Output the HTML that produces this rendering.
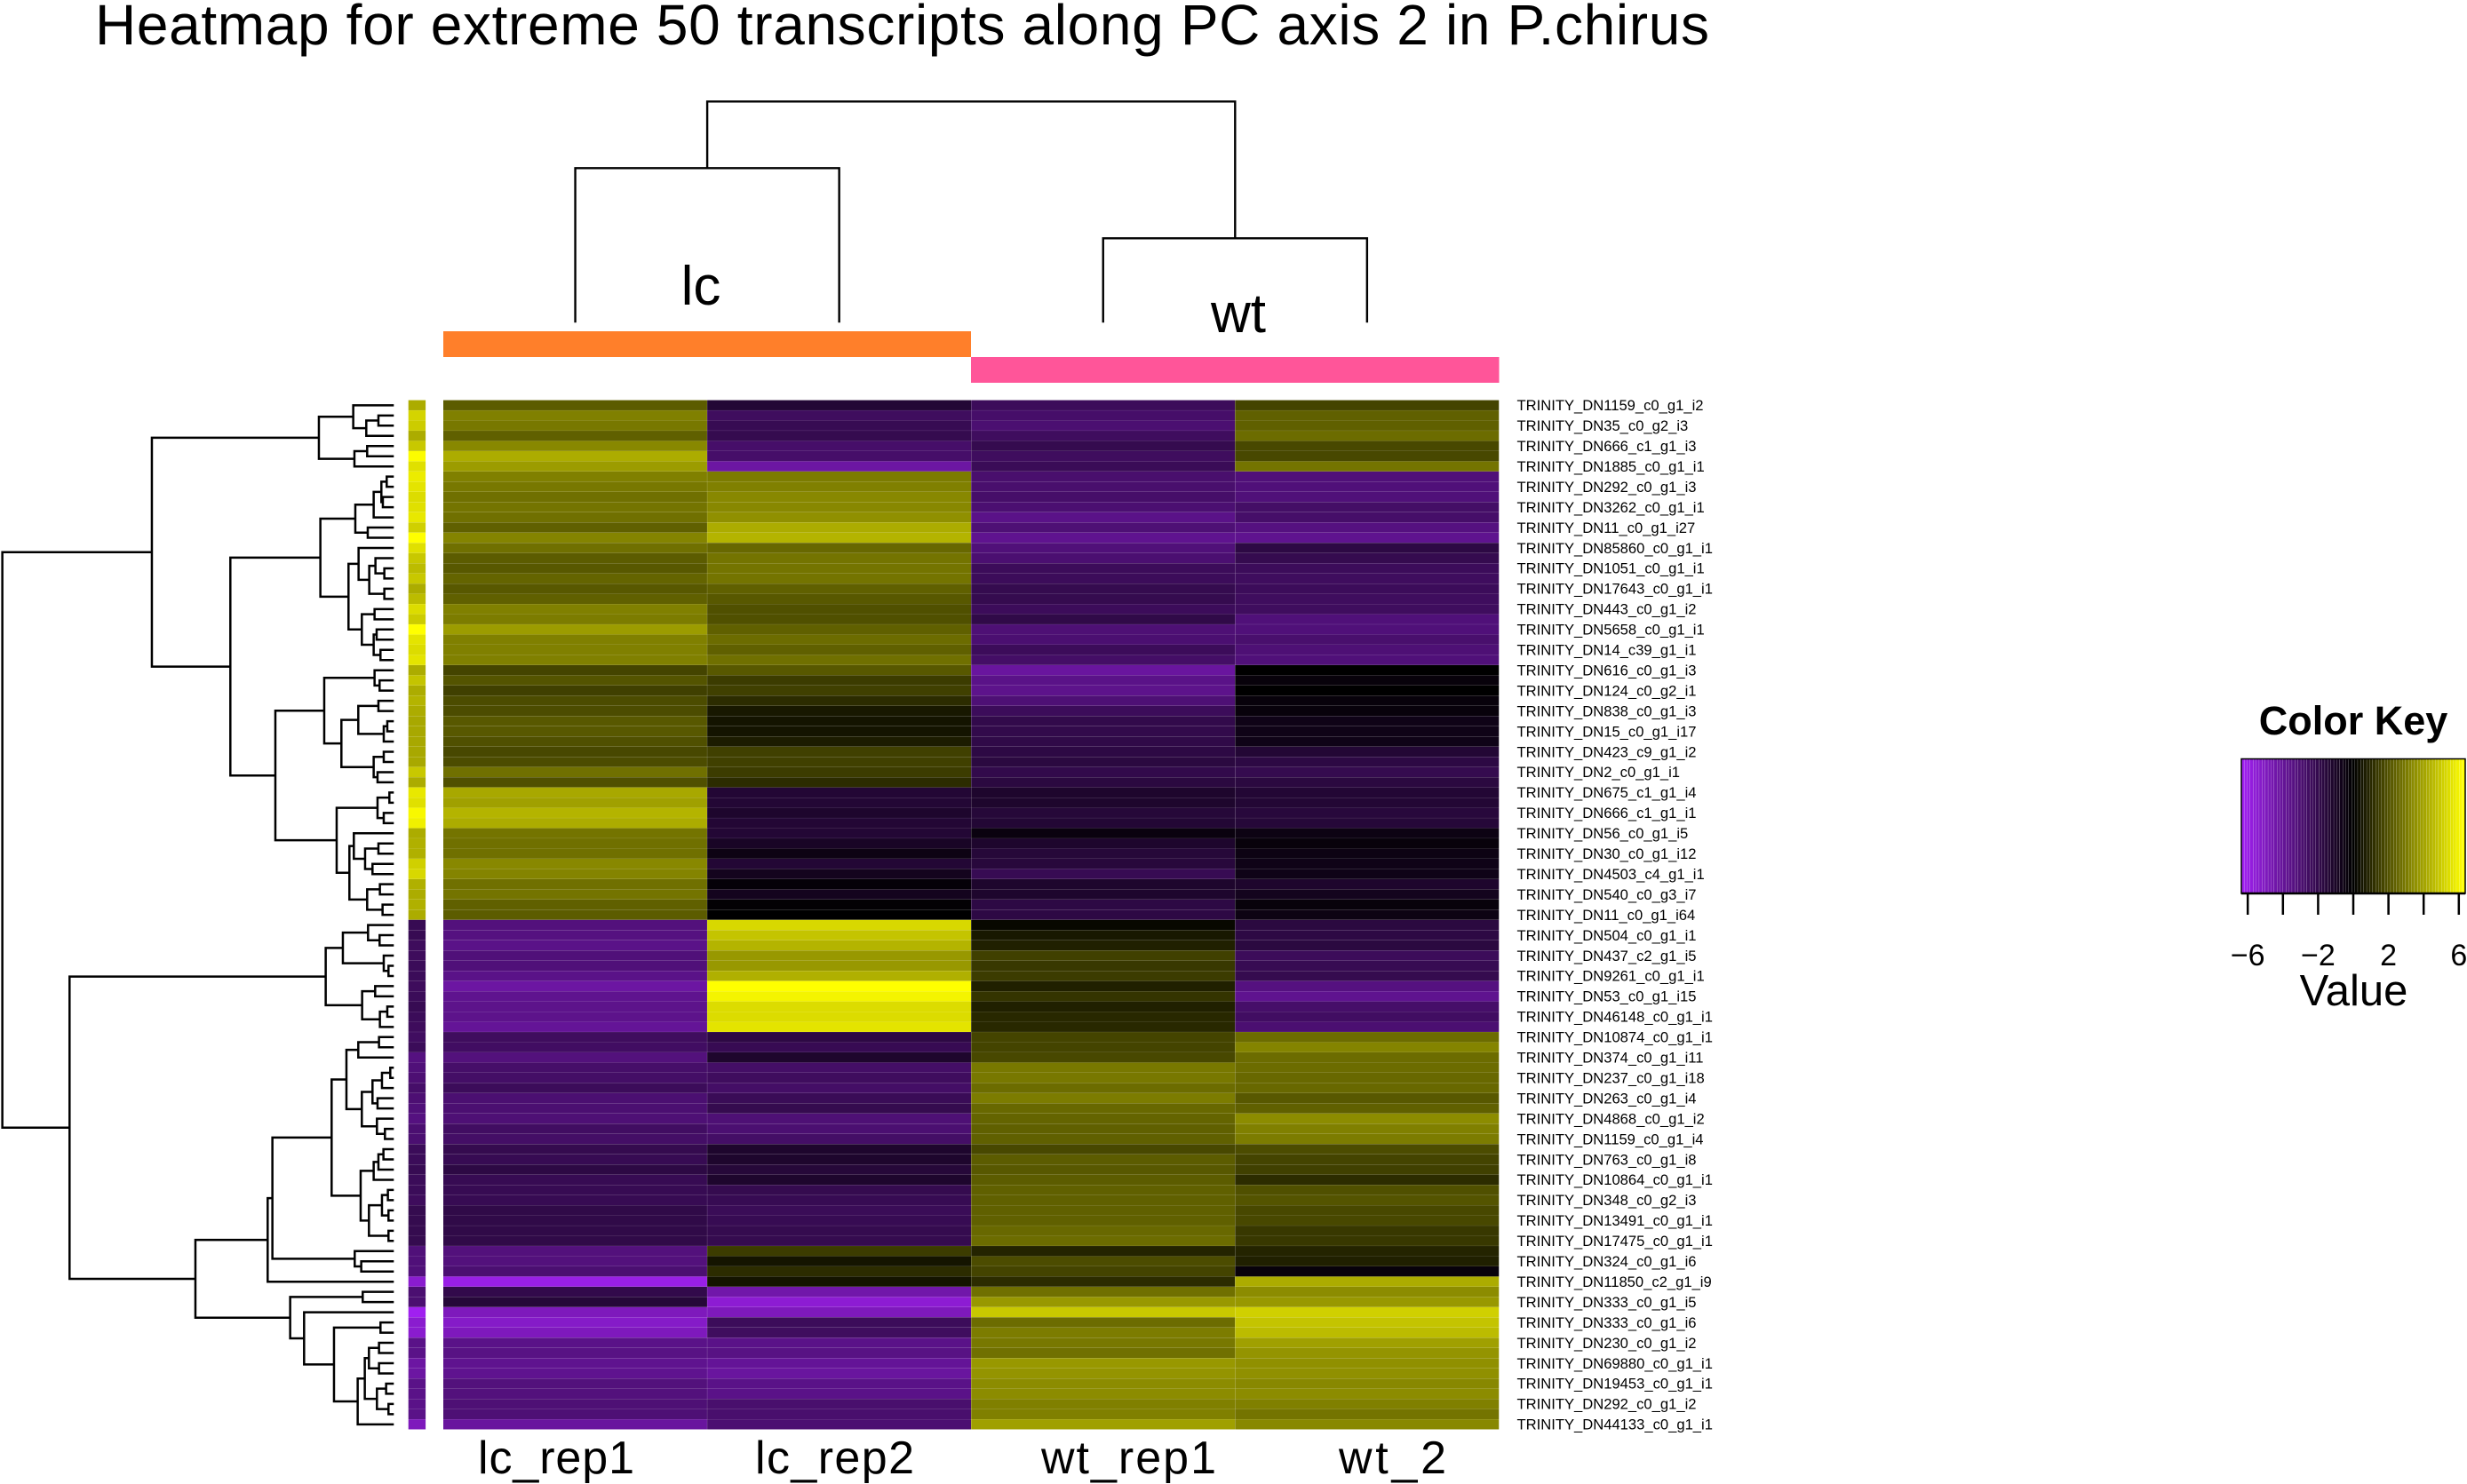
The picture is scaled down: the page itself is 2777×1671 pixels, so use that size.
<!DOCTYPE html>
<html lang="en">
<head>
<meta charset="utf-8">
<title>Heatmap for extreme 50 transcripts along PC axis 2 in P.chirus</title>
<style>
html,body{margin:0;padding:0;background:#fff;}
svg{display:block;}
text{font-family:"Liberation Sans",Arial,sans-serif;fill:#000;}
</style>
</head>
<body>
<svg id="chart" xmlns="http://www.w3.org/2000/svg" width="2777" height="1671" viewBox="0 0 2777 1671">
  <rect x="0" y="0" width="2777" height="1671" fill="#fff"/>
  <text x="107" y="50" font-size="64" textLength="1817" lengthAdjust="spacing">Heatmap for extreme 50 transcripts along PC axis 2 in P.chirus</text>
  <g id="col-tree" fill="none" stroke="#000" stroke-width="2.4"></g>
  <g id="row-tree" fill="none" stroke="#000" stroke-width="2.5"></g>
  <text x="789" y="343" font-size="62" text-anchor="middle">lc</text>
  <text x="1394" y="374" font-size="62" text-anchor="middle">wt</text>
  <rect x="499" y="373" width="297" height="29" fill="#ff7f2a"/>
  <rect x="796" y="373" width="297" height="29" fill="#ff7f2a"/>
  <rect x="1093" y="402" width="297" height="29" fill="#ff5599"/>
  <rect x="1390" y="402" width="297.500" height="29" fill="#ff5599"/>
  <g id="side-bar"></g>
  <g id="cells"></g>
  <g id="row-labels"></g>
  <g id="col-labels"></g>
  <g id="key">
    <text x="2649" y="827" font-size="45" font-weight="bold" text-anchor="middle">Color Key</text>
    <g id="key-cells"></g>
    <rect x="2523" y="854.500" width="252" height="151.500" fill="none" stroke="#000" stroke-width="1.500"/>
    <g id="key-axis"></g>
    <text x="2649.500" y="1132" font-size="49" text-anchor="middle">Value</text>
  </g>
</svg>
<script>
var rowLabels = ["TRINITY_DN1159_c0_g1_i2","TRINITY_DN35_c0_g2_i3","TRINITY_DN666_c1_g1_i3","TRINITY_DN1885_c0_g1_i1","TRINITY_DN292_c0_g1_i3","TRINITY_DN3262_c0_g1_i1","TRINITY_DN11_c0_g1_i27","TRINITY_DN85860_c0_g1_i1","TRINITY_DN1051_c0_g1_i1","TRINITY_DN17643_c0_g1_i1","TRINITY_DN443_c0_g1_i2","TRINITY_DN5658_c0_g1_i1","TRINITY_DN14_c39_g1_i1","TRINITY_DN616_c0_g1_i3","TRINITY_DN124_c0_g2_i1","TRINITY_DN838_c0_g1_i3","TRINITY_DN15_c0_g1_i17","TRINITY_DN423_c9_g1_i2","TRINITY_DN2_c0_g1_i1","TRINITY_DN675_c1_g1_i4","TRINITY_DN666_c1_g1_i1","TRINITY_DN56_c0_g1_i5","TRINITY_DN30_c0_g1_i12","TRINITY_DN4503_c4_g1_i1","TRINITY_DN540_c0_g3_i7","TRINITY_DN11_c0_g1_i64","TRINITY_DN504_c0_g1_i1","TRINITY_DN437_c2_g1_i5","TRINITY_DN9261_c0_g1_i1","TRINITY_DN53_c0_g1_i15","TRINITY_DN46148_c0_g1_i1","TRINITY_DN10874_c0_g1_i1","TRINITY_DN374_c0_g1_i11","TRINITY_DN237_c0_g1_i18","TRINITY_DN263_c0_g1_i4","TRINITY_DN4868_c0_g1_i2","TRINITY_DN1159_c0_g1_i4","TRINITY_DN763_c0_g1_i8","TRINITY_DN10864_c0_g1_i1","TRINITY_DN348_c0_g2_i3","TRINITY_DN13491_c0_g1_i1","TRINITY_DN17475_c0_g1_i1","TRINITY_DN324_c0_g1_i6","TRINITY_DN11850_c2_g1_i9","TRINITY_DN333_c0_g1_i5","TRINITY_DN333_c0_g1_i6","TRINITY_DN230_c0_g1_i2","TRINITY_DN69880_c0_g1_i1","TRINITY_DN19453_c0_g1_i1","TRINITY_DN292_c0_g1_i2","TRINITY_DN44133_c0_g1_i1"];
var colLabels = ["lc_rep1","lc_rep2","wt_rep1","wt_2"];
var lcRep1 = [2.3,3.2,3.0,2.4,3.4,4.3,3.9,3.2,3.0,2.8,
2.9,2.8,2.4,3.3,2.8,2.3,2.2,2.5,2.2,2.4,
3.2,3.1,3.9,3.2,3.2,3.2,1.7,2.1,1.6,1.9,
1.9,2.2,2.2,2.0,1.8,1.9,2.8,2.0,4.2,4.0,
4.5,4.3,2.9,2.8,2.8,3.4,3.3,2.8,2.9,2.4,
2.3,
-3.3,-3.4,-3.6,-3.2,-3.2,-3.6,-4.3,-3.8,-3.7,-3.7,
-4.0,-2.5,-2.6,-3.3,-2.8,-2.7,-2.4,-3.0,-3.0,-3.1,
-2.6,-2.7,-2.1,-2.2,-1.8,-2.2,-2.2,-2.2,-1.9,-1.9,
-1.9,-1.9,-3.3,-3.3,-3.0,-6.1,-2.0,-1.5,-5.0,-5.3,
-5.0,-3.6,-3.5,-3.8,-3.8,-3.3,-3.3,-3.1,-3.1,-4.2];
var lcRep2 = [-1.4,-2.5,-2.2,-2.1,-2.8,-2.8,-4.3,3.1,3.2,3.4,
3.4,3.6,4.3,4.5,2.6,2.9,2.9,2.9,2.4,2.2,
2.0,2.0,2.4,2.7,2.4,2.8,2.2,1.5,1.6,1.1,
0.6,0.5,0.5,0.7,1.6,1.6,1.5,1.1,-1.4,-1.4,
-1.2,-1.4,-1.4,-1.0,-0.5,-1.4,-0.8,-0.2,-0.8,-0.1,
0,
5.4,4.9,4.5,3.8,3.8,4.4,6.4,6.1,5.5,5.5,
5.7,-1.8,-2.2,-1.2,-2.7,-2.5,-2.7,-2.3,-2.1,-3.1,
-3.0,-2.7,-1.2,-1.2,-1.5,-1.2,-2.1,-2.2,-2.3,-2.2,
-2.1,-2.1,1.5,0.5,1.1,0.5,-4.5,-5.6,-5.0,-2.4,
-2.5,-3.6,-3.5,-4.0,-4.2,-3.6,-3.6,-2.9,-2.9,-3.0];
var wtRep1 = [-2.4,-2.8,-3.0,-2.5,-2.1,-2.5,-2.3,-2.9,-2.9,-2.8,
-3.0,-3.6,-3.1,-3.8,-3.2,-3.0,-2.4,-2.4,-2.1,-2.1,
-2.4,-1.9,-3.1,-3.0,-2.4,-2.7,-4.2,-3.6,-3.7,-3.1,
-2.4,-2.0,-2.0,-1.9,-1.8,-1.7,-2.0,-1.7,-1.2,-1.2,
-1.5,-1.4,-0.4,-1.2,-1.5,-1.6,-2.2,-1.2,-1.2,-1.8,
-1.8,
0.2,0.6,0.8,1.6,1.4,1.5,0.8,1.3,0.8,1.0,
1.0,1.7,1.7,1.8,3.0,3.0,2.7,3.1,2.6,2.5,
2.4,2.4,1.8,2.3,2.2,2.3,2.4,2.4,2.4,2.4,
2.6,2.7,0.9,1.9,1.7,1.1,2.8,3.8,5.0,2.7,
3.1,3.0,2.8,3.8,3.7,3.5,3.5,3.2,3.2,4.0];
var wt2 = [1.7,2.4,2.4,2.7,1.8,1.8,2.9,-3.2,-3.2,-3.2,
-2.7,-2.8,-3.4,-3.8,-1.8,-2.1,-2.4,-2.5,-2.4,-2.5,
-2.5,-3.2,-3.2,-2.9,-3.1,-3.2,0,-0.3,0,-0.3,
-0.3,-0.6,-0.6,-0.6,-1.4,-1.8,-2.1,-1.7,-1.4,-1.4,
-1.6,-1.5,-0.5,-0.3,-0.5,-0.6,-0.6,-1.2,-0.8,-0.3,
-0.5,
-1.7,-1.8,-1.7,-2.4,-2.2,-2.1,-3.4,-3.8,-2.8,-2.6,
-3.0,2.7,3.3,2.7,2.7,2.6,2.6,2.2,2.4,3.5,
3.2,3.1,1.9,1.7,1.6,1.1,2.0,2.1,1.8,1.8,
1.4,1.4,0.9,0.8,-0.3,4.3,3.5,3.8,5.2,4.9,
4.7,4.0,3.7,3.6,3.6,3.4,3.5,3.2,2.9,3.4];
var sideValues = [4.3,5.3,5.1,4.3,5.0,6.3,5.6,5.9,5.7,5.5,
5.6,5.8,5.2,6.4,5.6,5.0,4.7,5.0,4.3,4.7,
5.5,5.1,6.4,5.7,5.5,5.7,4.3,4.9,4.3,4.5,
4.3,4.2,4.2,4.2,4.2,4.2,5.0,4.3,5.8,5.6,
6.2,6.0,4.3,4.4,4.4,5.2,5.4,4.4,4.3,4.4,
4.3,
-2.2,-2.2,-2.45,-2.45,-2.35,-2.35,-2.45,-2.35,-2.2,-2.35,
-2.45,-2.55,-2.35,-3.4,-3.2,-3.05,-2.8,-3.05,-3.2,-3.4,
-3.0,-3.0,-2.35,-2.35,-2.2,-2.35,-2.35,-2.45,-2.1,-2.1,
-2.1,-2.1,-3.2,-3.2,-3.2,-5.5,-3.0,-3.0,-6.4,-5.5,
-5.5,-3.6,-3.6,-4.3,-4.3,-3.6,-3.6,-3.6,-3.6,-5.0];
var keyTicks = [-6,-4,-2,0,2,4,6];
var keyTickLabels = ["\u22126","","\u22122","","2","","6"];
var colTree = [249,[174,0,0],[95,0,0]];
var rowTree = [1322,
  [817,
    [253,[137,0,[93,[52,0,0],0]],[133,[90,0,0],0]],
    [552,
      [248,
        [130,[68,[42,[24,0,0],[37,0,0]],0],[88,0,0]],
        [153,
          [119,0,[83,[62,0,[32,0,0]],[32,0,0]]],
          [108,[65,0,0],[68,[58,0,0],[45,0,0]]]]],
      [400,
        [235,[65,0,[48,0,0]],[177,[120,[52,0,0],[34,[22,0,0],0]],[68,[34,0,0],[55,0,0]]]],
        [193,[55,[15,0,0],[34,0,0]],[150,[135,0,[97,[52,0,0],[72,0,0]]],[90,[47,0,0],[38,0,0]]]]]]],
  [1095,
    [230,[172,[87,0,[48,0,0]],[34,0,[18,0,0]]],[107,[63,0,0],[47,[22,0,0],0]]],
    [670,
      [426,
        [410,
          [210,
            [160,[120,[50,0,0],0],[108,[72,[40,[12,0,0],0],[55,0,0]],[57,0,[30,0,0]]]],
            [112,[68,[52,[35,0,0],0],0],[84,[40,[20,0,0],[18,0,0]],[18,0,0]]]],
          [132,0,[110,0,0]]],
        0],
      [350,[105,0,0],[303,0,[202,[45,0,0],[122,[98,[84,[50,0,0],[50,0,0]],[57,[26,0,0],[18,0,0]]],0]]]]]]];

var NS = "http://www.w3.org/2000/svg";
var heatLeft = 499, colW = 297.1, heatTop = 450.6, rowH = 11.475;
var colorMax = 6.37;
var keyCenter = 2649, keyUnit = 19.8;
var columns = [lcRep1, lcRep2, wtRep1, wt2];
var colLabelX = [538, 850, 1172, 1507];
var colLabelLen = [176, 179, 197, 121];

function make(tag, attrs, parent) {
  var el = document.createElementNS(NS, tag);
  for (var k in attrs) { el.setAttribute(k, attrs[k]); }
  parent.appendChild(el);
  return el;
}
function colorOf(v) {
  var t = Math.max(-1, Math.min(1, v / colorMax));
  if (t >= 0) {
    var y = Math.round(255 * t);
    return "rgb(" + y + "," + y + ",0)";
  }
  var a = -t;
  return "rgb(" + Math.round(160 * a) + "," + Math.round(32 * a) + "," + Math.round(240 * a) + ")";
}
function rowTop(i) { return heatTop + i * rowH; }
function rowCenter(i) { return rowTop(i) + rowH / 2; }
function colLeft(j) { return heatLeft + j * colW; }
function colCenter(j) { return colLeft(j) + colW / 2; }
function rowTreeX(h) { return 443.3 - h / 3; }
function colTreeY(h) { return 363.3 - h; }
function keyX(v) { return keyCenter + keyUnit * v; }

// heatmap cells
var cellsG = document.getElementById("cells");
columns.forEach(function (vals, j) {
  vals.forEach(function (v, i) {
    var cell = make("rect", {x: colLeft(j), y: rowTop(i), width: colW - 0.15, height: rowH - 0.1, fill: colorOf(v)}, cellsG);
    
    
  });
});

// side colour bar
var sideG = document.getElementById("side-bar");
sideValues.forEach(function (v, i) {
  var s = make("rect", {x: 459.7, y: rowTop(i), width: 19.4, height: rowH - 0.1, fill: colorOf(v)}, sideG);
  
  
});

// row labels (every second row)
var rowLabelG = document.getElementById("row-labels");
rowLabels.forEach(function (txt, k) {
  var t = make("text", {x: 1707.5, y: rowCenter(k * 2) + 5.8, "font-size": 16.6}, rowLabelG);
  t.textContent = txt;
  
  
});

// column labels
var colLabelG = document.getElementById("col-labels");
colLabels.forEach(function (txt, j) {
  var t = make("text", {x: colLabelX[j], y: 1659, "font-size": 52, textLength: colLabelLen[j], lengthAdjust: "spacing"}, colLabelG);
  t.textContent = txt;
  
  
});

// dendrograms
var rowTreeG = document.getElementById("row-tree");
var leafRow = 0;
function drawRowNode(node) {
  if (!node) {
    var leaf = {x: rowTreeX(0), y: rowCenter(leafRow)};
    leafRow++;
    return leaf;
  }
  var a = drawRowNode(node[1]);
  var b = drawRowNode(node[2]);
  var x = rowTreeX(node[0]);
  var p = make("path", {d: "M" + a.x + " " + a.y + "H" + x + "V" + b.y + "H" + b.x}, rowTreeG);
  
  
  return {x: x, y: (a.y + b.y) / 2};
}
drawRowNode(rowTree);

var colTreeG = document.getElementById("col-tree");
var leafCol = 0;
function drawColNode(node) {
  if (!node) {
    var leaf = {x: colCenter(leafCol), y: colTreeY(0)};
    leafCol++;
    return leaf;
  }
  var a = drawColNode(node[1]);
  var b = drawColNode(node[2]);
  var y = colTreeY(node[0]);
  var p = make("path", {d: "M" + a.x + " " + a.y + "V" + y + "H" + b.x + "V" + b.y}, colTreeG);
  
  
  return {x: (a.x + b.x) / 2, y: y};
}
drawColNode(colTree);

// colour key
var keyCellsG = document.getElementById("key-cells");
var keySteps = 75;
for (var n = 0; n < keySteps; n++) {
  var v0 = -colorMax + n * (2 * colorMax / keySteps);
  var r = make("rect", {x: keyX(v0), y: 854.5, width: (2 * colorMax / keySteps) * keyUnit - 0.2, height: 151.5, fill: colorOf(colorMax * (n - 37) / 37)}, keyCellsG);
  
  
}
var keyAxisG = document.getElementById("key-axis");
var axisLine = make("line", {x1: 2523, x2: 2775, y1: 1006, y2: 1006, stroke: "#000", "stroke-width": 2.5}, keyAxisG);


keyTicks.forEach(function (v, i) {
  var tk = make("line", {x1: keyX(v), x2: keyX(v), y1: 1006, y2: 1030, stroke: "#000", "stroke-width": 2.5}, keyAxisG);
  
  
  if (keyTickLabels[i]) {
    var lb = make("text", {x: keyX(v), y: 1087, "font-size": 34, "text-anchor": "middle"}, keyAxisG);
    lb.textContent = keyTickLabels[i];
    
    
  }
});
</script>
</body>
</html>
